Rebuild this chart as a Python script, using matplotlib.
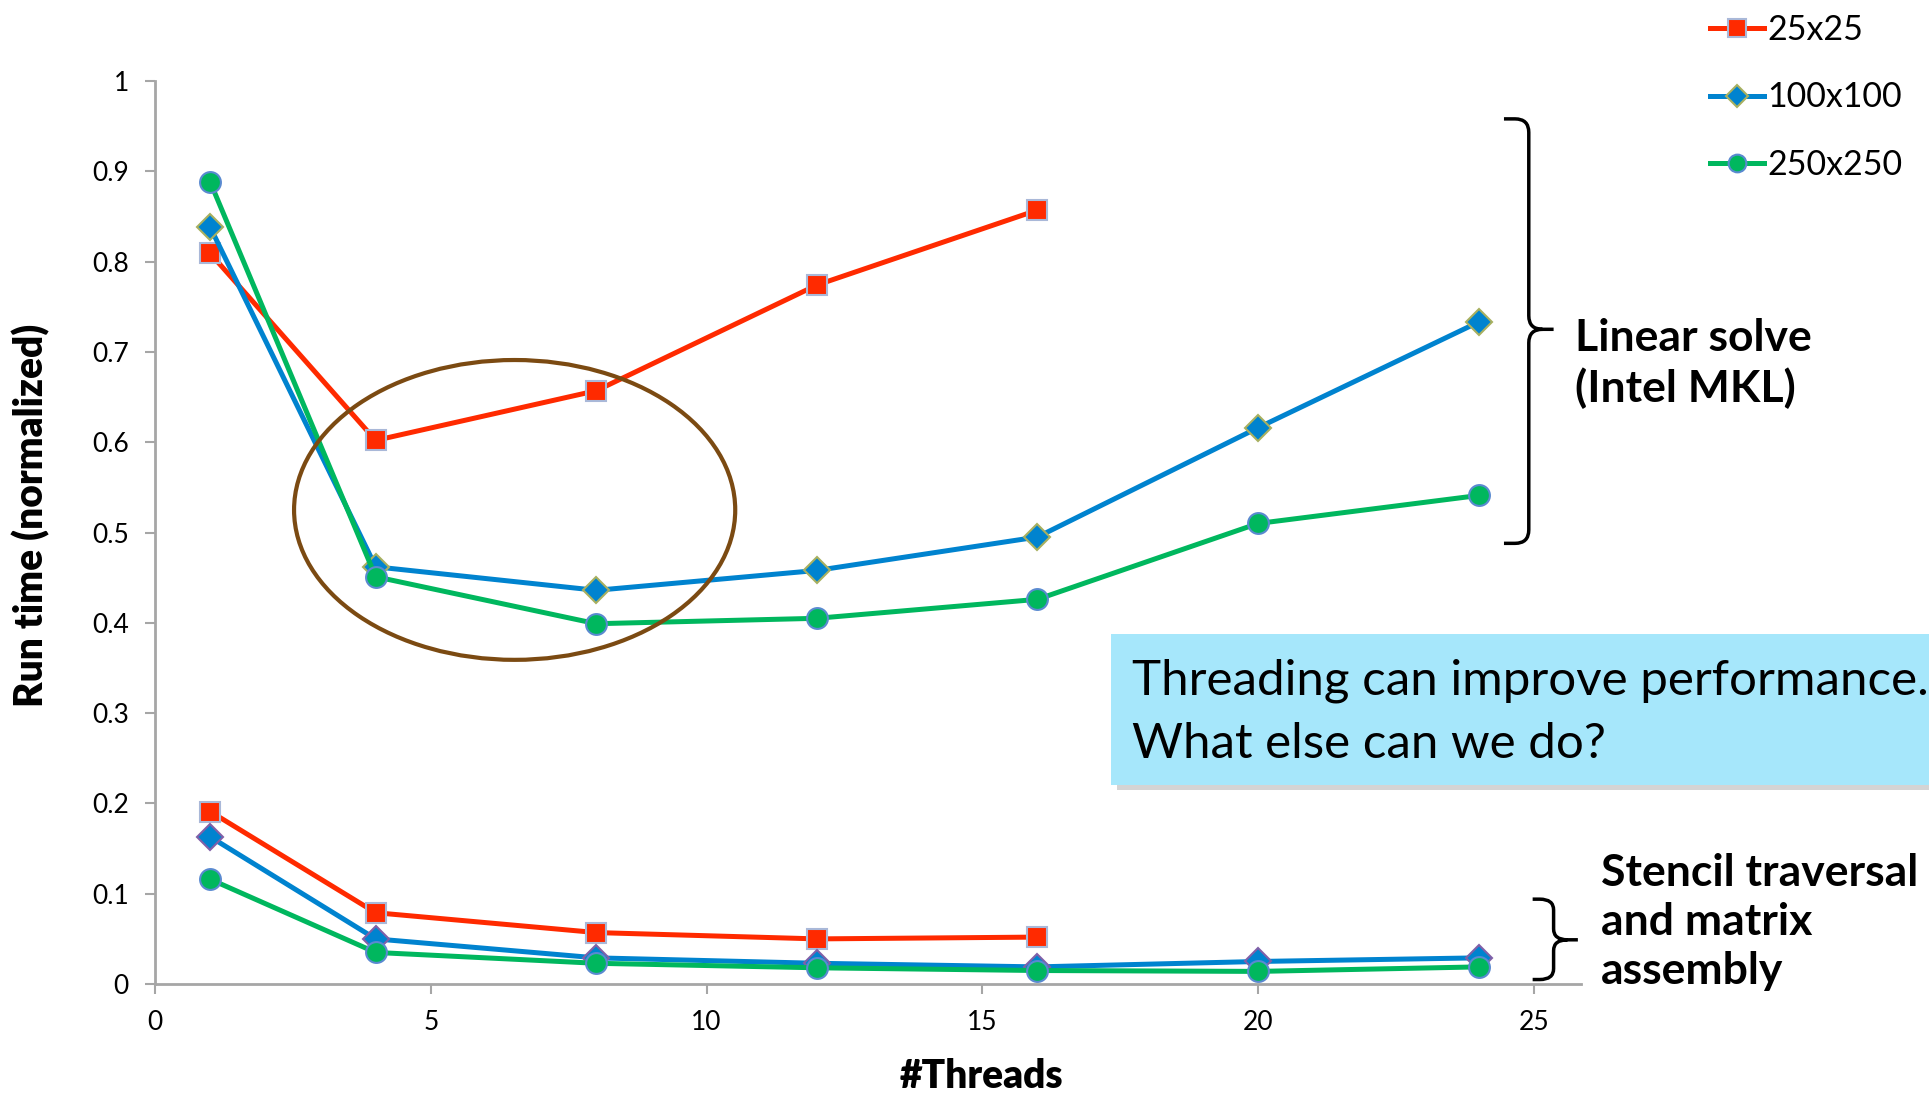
import matplotlib
matplotlib.use("Agg")
import matplotlib.pyplot as plt
from matplotlib.patches import Ellipse, Rectangle, PathPatch
from matplotlib.path import Path

plt.rcParams['font.family'] = ['Lato', 'DejaVu Sans']

threads = [1, 4, 8, 12, 16, 20, 24]
threads_small = [1, 4, 8, 12, 16]

# linear solve (Intel MKL)
solve_25 = [0.809, 0.602, 0.657, 0.774, 0.857]
solve_100 = [0.838, 0.462, 0.436, 0.458, 0.495, 0.616, 0.733]
solve_250 = [0.888, 0.451, 0.399, 0.405, 0.426, 0.510, 0.541]

# stencil traversal and matrix assembly
stencil_25 = [0.191, 0.079, 0.057, 0.050, 0.052]
stencil_100 = [0.163, 0.050, 0.029, 0.023, 0.019, 0.025, 0.029]
stencil_250 = [0.116, 0.035, 0.023, 0.018, 0.015, 0.014, 0.019]

labels = ['25x25', '100x100', '250x250']
red, blue, green = '#ff2a00', '#0083cf', '#00b75e'

fig = plt.figure(figsize=(19.29, 10.94), dpi=100)
ax = fig.add_axes([0.0804, 0.1005, 0.739, 0.8255])

kw = dict(lw=3.6, clip_on=False, zorder=3)
ax.plot(threads_small, solve_25, color=red, marker='s', ms=15, mfc=red, mec='#a9b8d8', mew=1.5, label=labels[0], **kw)
ax.plot(threads, solve_100, color=blue, marker='D', ms=13, mfc=blue, mec='#a8b060', mew=1.5, label=labels[1], **kw)
ax.plot(threads, solve_250, color=green, marker='o', ms=15, mfc=green, mec='#5a8ad0', mew=1.5, label=labels[2], **kw)
ax.plot(threads_small, stencil_25, color=red, marker='s', ms=15, mfc=red, mec='#a9b8d8', mew=1.5, **kw)
ax.plot(threads, stencil_100, color=blue, marker='D', ms=13, mfc=blue, mec='#8060a8', mew=1.5, **kw)
ax.plot(threads, stencil_250, color=green, marker='o', ms=15, mfc=green, mec='#5a8ad0', mew=1.5, **kw)

ax.set_xlim(0, 25.85)
ax.set_ylim(0, 1)
ax.set_xticks([0, 5, 10, 15, 20, 25])
ax.set_yticks([0, 0.1, 0.2, 0.3, 0.4, 0.5, 0.6, 0.7, 0.8, 0.9, 1])
ax.set_yticklabels(['0', '0.1', '0.2', '0.3', '0.4', '0.5', '0.6', '0.7', '0.8', '0.9', '1'])
for s in ['top', 'right']:
    ax.spines[s].set_visible(False)
for s in ['left', 'bottom']:
    ax.spines[s].set_color('#a6a6a6')
    ax.spines[s].set_linewidth(2)
ax.tick_params(axis='both', direction='out', length=7, width=1.5, color='#a6a6a6', labelsize=19, pad=12)

fig.text(0.016, 0.529, 'Run time (normalized)', fontsize=28, fontweight='heavy', rotation=90, ha='center', va='center')
fig.text(0.509, 0.016, '#Threads', fontsize=28, fontweight='heavy', ha='center', va='center')

# ellipse around the sweet spot
ax.add_patch(Ellipse((6.52, 0.525), 8.0, 0.332, fill=False, ec='#7b4a12', lw=3, zorder=4))


def brace(x0, xv, xt, ytop, ybot, ymid, rx, ry):
    verts = [(x0, ytop), (xv - rx, ytop), (xv, ytop), (xv, ytop - ry),
             (xv, ymid + ry), (xv, ymid), (xv + rx, ymid), (xt, ymid),
             (xv + rx, ymid), (xv, ymid), (xv, ymid - ry),
             (xv, ybot + ry), (xv, ybot), (xv - rx, ybot), (x0, ybot)]
    codes = [Path.MOVETO, Path.LINETO, Path.CURVE3, Path.CURVE3,
             Path.LINETO, Path.CURVE3, Path.CURVE3, Path.LINETO,
             Path.MOVETO, Path.CURVE3, Path.CURVE3,
             Path.LINETO, Path.CURVE3, Path.CURVE3, Path.LINETO]
    ax.add_patch(PathPatch(Path(verts, codes), fill=False, lw=2.5, ec='black', clip_on=False))


brace(24.46, 24.91, 25.36, 0.958, 0.488, 0.725, 0.25, 0.015)
brace(24.98, 25.36, 25.80, 0.094, 0.005, 0.049, 0.25, 0.012)

ax.text(25.75, 0.687, 'Linear solve\n(Intel MKL)', fontsize=32, fontweight='bold', va='center', ha='left', linespacing=1.27)
ax.text(26.22, 0.069, 'Stencil traversal\nand matrix\nassembly', fontsize=32, fontweight='bold', va='center', ha='left', linespacing=1.27)

# callout box
fig.patches.append(Rectangle((0.579, 0.2775), 0.43, 0.138, transform=fig.transFigure, fc='#b8b8b8', ec='none', alpha=0.6, zorder=0))
fig.patches.append(Rectangle((0.576, 0.2825), 0.43, 0.138, transform=fig.transFigure, fc='#a6e7fb', ec='none', zorder=1))
fig.text(0.5868, 0.378, 'Threading can improve performance.', fontsize=35.5, va='center', ha='left')
fig.text(0.5868, 0.320, 'What else can we do?', fontsize=35.5, va='center', ha='left')

fig.legend(loc='upper left', bbox_to_anchor=(0.8775, 1.003), bbox_transform=fig.transFigure, frameon=False,
           fontsize=24.5, labelspacing=1.05, handlelength=1.6, handletextpad=0.1, borderpad=0.0, markerscale=0.85)

fig.savefig('out.png', dpi=100)
